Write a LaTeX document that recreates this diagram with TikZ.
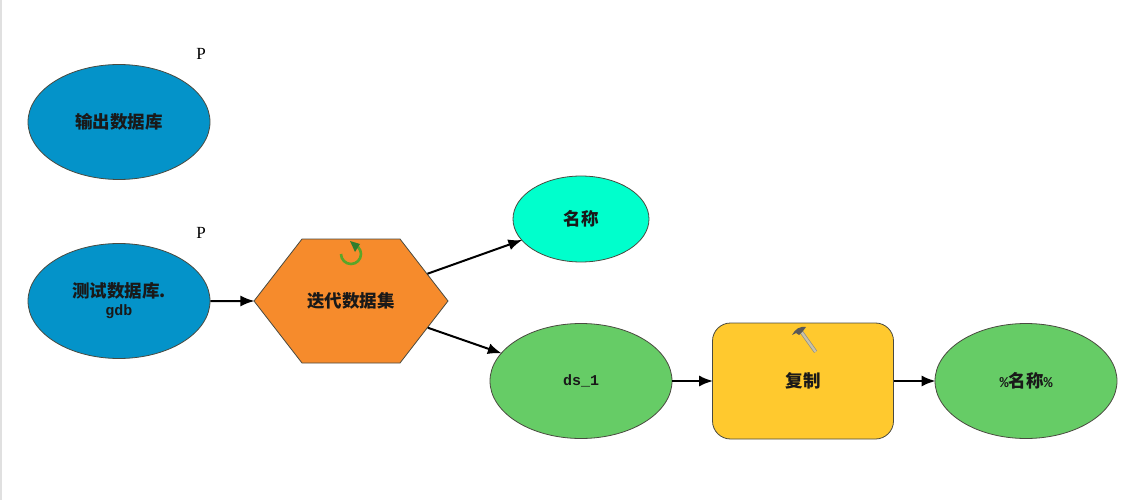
\documentclass[tikz,border=0pt]{standalone}
\usepackage{fontspec}
\usepackage{xcolor}
\usetikzlibrary{shapes.geometric,shapes.symbols,arrows.meta}
\setmainfont{Liberation Serif}
\newfontfamily\cjk{Noto Sans CJK SC}
\newfontfamily\latn{Liberation Mono}
\definecolor{inblue}{HTML}{0493C9}
\definecolor{iterorange}{HTML}{F68B2C}
\definecolor{valcyan}{HTML}{00FFCC}
\definecolor{outgreen}{HTML}{66CC66}
\definecolor{toolyellow}{HTML}{FFC92E}
\definecolor{edgegrey}{HTML}{4A4A40}
\definecolor{icongreen}{HTML}{5AA528}
\definecolor{icondark}{HTML}{2F7D2D}
\definecolor{handletan}{HTML}{C9C2A8}
\tikzstyle{labeltext} = [font=\fontsize{17.5}{18}\selectfont\bfseries\cjk, text=black!90, align=center, inner sep=0pt, line width=0.8pt]
\tikzstyle{data} = [ellipse, draw=edgegrey, labeltext, minimum width=182, minimum height=115]
\tikzstyle{inputdata} = [data, fill=inblue]
\tikzstyle{outputdata} = [data, fill=outgreen]
\tikzstyle{tool} = [rectangle, rounded corners=18, draw=edgegrey, fill=toolyellow, labeltext, minimum width=181, minimum height=116]
\tikzstyle{iterator} = [signal, signal to=west and east, signal pointer angle=104.5, draw=edgegrey, fill=iterorange, labeltext, minimum width=194, minimum height=124]
\tikzstyle{pmark} = [font=\fontsize{17}{18}\selectfont, inner sep=0pt]

\begin{document}
\begin{tikzpicture}[x=1pt,y=-1pt,->,>={Latex[length=14pt,width=11pt]},shorten >=-1pt,line width=2pt]
  \useasboundingbox (0,0) rectangle (1144,500);
  \fill[black!12] (0,0) rectangle (2,500);
  \node[inputdata] (output_db) at (119,122) {输出数据库};
  \node[inputdata] (test_db) [below of=output_db, node distance=179] {测试数据库.\\{\latn\fontsize{15}{18}\selectfont gdb}};
  \node[iterator] (iter) [right of=test_db, node distance=232] {迭代数据集};
  \node[data, fill=valcyan, minimum width=136, minimum height=86] (name) at (581,219) {名称};
  \node[outputdata] (ds) [below of=name, node distance=162] {\latn\fontsize{15}{18}\selectfont ds\_1};
  \node[tool] (copy) [right of=ds, node distance=222] {复制};
  \node[outputdata] (result) [right of=copy, node distance=223] {{\latn\fontsize{15}{18}\selectfont\%}名称{\latn\fontsize{15}{18}\selectfont\%}};
  \node[pmark] (p_output) at (201,54) {P};
  \node[pmark] (p_test) at (201,233) {P};

  \path (test_db) edge (iter);
  \path (iter) edge (name);
  \path (iter) edge (ds);
  \path (ds) edge (copy);
  \path (copy) edge (result);

  % iterator icon
  \draw[-,icongreen,line width=2.6pt] (341,254) arc (180:-40:10);
  \fill[icondark] (350,241) -- (360,244) -- (355,252) -- cycle;
  % tool icon
  \draw[-,draw=black!45,line width=3.6pt] (800,330) -- (815,351);
  \draw[-,handletan,line width=2.2pt] (800,330) -- (815,351);
  \fill[black!65] (792,335) .. controls (795,329) and (800,326) .. (806,327) -- (803,331) -- (799,335) -- (796,333) -- cycle;
\end{tikzpicture}
\end{document}
